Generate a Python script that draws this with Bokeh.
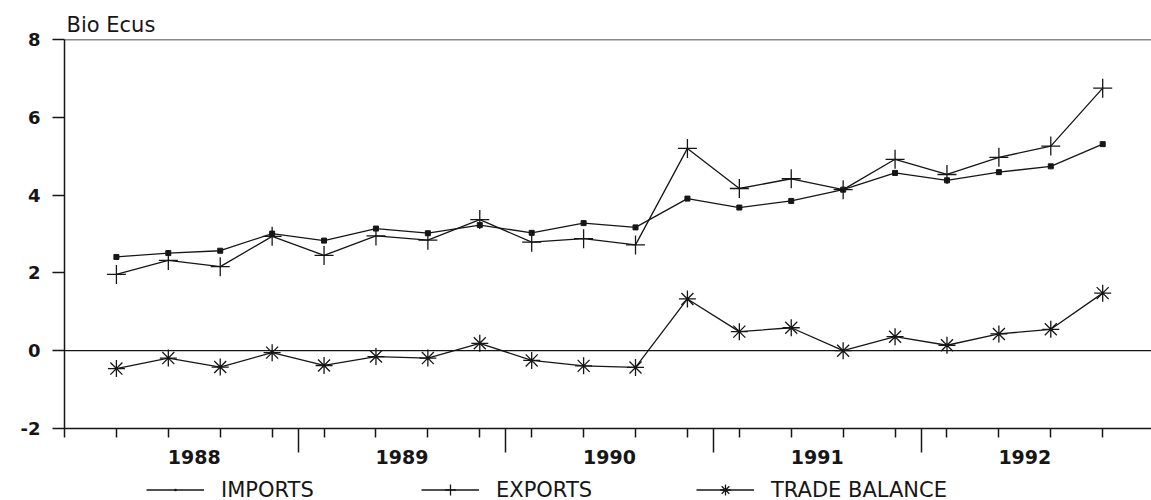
from bokeh.plotting import figure
from bokeh.layouts import column
from bokeh.models import Range1d, LinearAxis, FixedTicker, Span, Legend, LegendItem
from bokeh.embed import file_html
from bokeh.resources import INLINE

# Quarterly data, 1988 Q1 .. 1992 Q4 (billion ECU)
quarters = [f"{yr} Q{q}" for yr in range(1988, 1993) for q in range(1, 5)]
imports = [2.41, 2.51, 2.57, 3.01, 2.83, 3.14, 3.02, 3.23, 3.03, 3.28,
           3.17, 3.91, 3.68, 3.85, 4.14, 4.57, 4.38, 4.59, 4.74, 5.31]
exports = [1.96, 2.32, 2.16, 2.94, 2.45, 2.95, 2.84, 3.37, 2.79, 2.88,
           2.72, 5.20, 4.17, 4.42, 4.14, 4.92, 4.53, 4.97, 5.26, 6.75]
trade_balance = [-0.46, -0.19, -0.42, -0.05, -0.38, -0.15, -0.19, 0.19, -0.25, -0.39,
                 -0.43, 1.33, 0.49, 0.59, 0.00, 0.36, 0.14, 0.43, 0.55, 1.48]
years = ["1988", "1989", "1990", "1991", "1992"]
y_ticks = [-2, 0, 2, 4, 6, 8]
y_tick_labels = ["-2", "0", "2", "4", "6", "8"]
series_names = ["IMPORTS", "EXPORTS", "TRADE BALANCE"]

x = list(range(len(quarters)))
FONT = "DejaVu Sans"
INK = "#161616"

p = figure(width=1151, height=476, output_backend="svg", toolbar_location=None,
           x_range=Range1d(-1, 19.94), y_range=Range1d(-2, 8),
           x_axis_type=None, y_axis_type=None,
           min_border_left=64, min_border_right=0, min_border_top=39, min_border_bottom=48,
           title="Bio Ecus")
p.outline_line_color = None
p.background_fill_color = "white"
p.border_fill_color = "white"
p.title.align = "left"
p.title.offset = 2
p.title.text_font = FONT
p.title.text_font_size = "21px"
p.title.text_font_style = "normal"
p.title.text_color = INK
p.title.standoff = 5

# left axis
yaxis = LinearAxis(ticker=FixedTicker(ticks=y_ticks), major_tick_out=12, major_tick_in=0,
                   minor_tick_out=0, minor_tick_in=0, axis_line_width=1.5,
                   axis_line_color=INK, major_tick_line_color=INK, major_tick_line_width=1.5,
                   major_label_overrides={v: t for v, t in zip(y_ticks, y_tick_labels)},
                   major_label_text_font=FONT, major_label_text_font_size="18px",
                   major_label_text_font_style="bold", major_label_text_color=INK,
                   major_label_standoff=12)
p.add_layout(yaxis, "left")

# bottom axis: tick marks (long ticks at year boundaries, short ticks at quarters)
year_bounds = [4 * k + 3.5 for k in range(len(years) - 1)]
quarter_ticks = [-1] + x
xaxis_ticks = LinearAxis(ticker=FixedTicker(ticks=year_bounds, minor_ticks=quarter_ticks),
                         major_tick_out=24, major_tick_in=0, minor_tick_out=9, minor_tick_in=0,
                         axis_line_width=1.5, axis_line_color=INK,
                         major_tick_line_color=INK, major_tick_line_width=1.5,
                         minor_tick_line_color=INK, minor_tick_line_width=1.5,
                         major_label_text_font_size="1px", major_label_text_alpha=0,
                         major_label_standoff=0)
p.add_layout(xaxis_ticks, "below")

# bottom axis: year labels
year_centers = [4 * k + 1.5 for k in range(len(years))]
xaxis_labels = LinearAxis(ticker=FixedTicker(ticks=year_centers, minor_ticks=[]),
                          major_tick_out=0, major_tick_in=0, minor_tick_out=0, minor_tick_in=0,
                          axis_line_color=None, major_tick_line_color=None,
                          major_label_overrides={c: t for c, t in zip(year_centers, years)},
                          major_label_text_font=FONT, major_label_text_font_size="19px",
                          major_label_text_font_style="bold", major_label_text_color=INK,
                          major_label_standoff=-3)
p.add_layout(xaxis_labels, "below")

# reference lines
p.add_layout(Span(location=8, dimension="width", line_color=INK, line_width=1.5))
p.add_layout(Span(location=0, dimension="width", line_color=INK, line_width=1.2))

# series
line_kw = dict(line_color=INK, line_width=1.3)
p.line(x, imports, **line_kw)
p.scatter(x, imports, marker="square", size=5, fill_color=INK, line_color=INK)
p.line(x, exports, **line_kw)
p.scatter(x, exports, marker="cross", size=19, line_color=INK, line_width=1.3)
p.line(x, trade_balance, **line_kw)
p.scatter(x, trade_balance, marker="asterisk", size=17, line_color=INK, line_width=1.3)

# legend strip below the chart (its sample glyphs sit outside the strip's visible range)
lg = figure(width=1151, height=24, output_backend="svg", toolbar_location=None,
            x_range=Range1d(0, 1), y_range=Range1d(0, 1),
            x_axis_type=None, y_axis_type=None,
            min_border_left=0, min_border_right=0, min_border_top=0, min_border_bottom=0)
lg.outline_line_color = None
lg.background_fill_color = "white"
lg.border_fill_color = "white"
legend_markers = ["dot", "cross", "asterisk"]
items = []
for name, mk in zip(series_names, legend_markers):
    r_line = lg.line([5, 6], [5, 6], **line_kw)
    r_mark = lg.scatter([5], [5], marker=mk, size=10, fill_color=INK, line_color=INK,
                        line_width=4 if mk == "dot" else 1.3)
    items.append(LegendItem(label=name, renderers=[r_line, r_mark]))

legend = Legend(items=items, orientation="horizontal", location=(82, -3),
                glyph_width=58, glyph_height=27, label_standoff=17, spacing=70,
                label_width=130, label_height=27,
                padding=0, margin=0, border_line_color=None, background_fill_alpha=0,
                label_text_font=FONT, label_text_font_size="21px", label_text_color=INK)
lg.add_layout(legend, "center")

layout = column(p, lg, spacing=0)
open("out.html", "w").write(file_html(layout, INLINE))
